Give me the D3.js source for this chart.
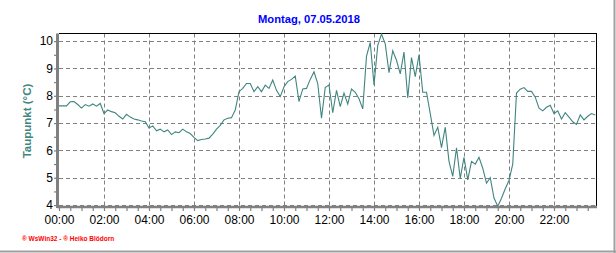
<!DOCTYPE html>
<html><head><meta charset="utf-8">
<script src="https://cdn.jsdelivr.net/npm/d3@7/dist/d3.min.js"></script>
<style>html,body{margin:0;padding:0;background:#fff;}svg{display:block;}</style>
</head><body>
<script>
// Dew point (Taupunkt), 10-minute samples starting 00:00
const startMinute = 0;
const stepMinutes = 10;
const dewPoint = [
 7.63,7.63,7.63,7.78,7.79,7.68, 7.55,7.68,7.62,7.70,7.62,7.72,
 7.35,7.48,7.42,7.38,7.25,7.15, 7.32,7.22,7.15,7.12,7.08,7.05,
 6.82,6.90,6.72,6.78,6.68,6.75, 6.58,6.68,6.65,6.78,6.68,6.62,
 6.48,6.36,6.40,6.42,6.45,6.60, 6.78,6.92,7.12,7.18,7.20,7.48,
 8.15,8.27,8.45,8.45,8.15,8.33, 8.15,8.39,8.27,8.58,8.20,7.97,
 8.33,8.52,8.60,8.72,7.79,8.25, 8.27,8.60,8.88,8.45,7.18,8.30,
 8.40,7.38,8.20,7.60,8.10,7.70, 8.25,8.13,7.89,7.52,9.45,9.95,
 8.40,9.85,10.26,9.90,8.85,9.65, 9.30,8.80,9.60,7.92,9.40,8.70,
 9.50,8.13,8.13,7.35,6.55,6.85, 6.10,6.85,5.60,5.05,6.10,4.98,
 5.75,4.92,5.60,5.50,5.75,5.35, 4.80,5.00,4.26,3.96,4.25,4.60,
 4.90,5.50,8.10,8.24,8.30,8.16, 8.16,7.95,7.55,7.45,7.58,7.65,
 7.35,7.45,7.15,7.38,7.22,7.05, 6.95,7.30,7.12,7.25,7.35,7.30
];
const yTicks = [4,5,6,7,8,9,10];
const xTickHours = [0,2,4,6,8,10,12,14,16,18,20,22];
const titleText = "Montag, 07.05.2018";
const yLabel = "Taupunkt  (°C)";
const footerText = "® WsWin32  -  ® Heiko Blödorn";

const W = 616, H = 253;
const L = 59, R = 597, T = 33.5, B = 207;
const svg = d3.select("body").append("svg").attr("width", W).attr("height", H);
const font = "'Liberation Sans', Arial, sans-serif";

const x = d3.scaleLinear().domain([0, 538/0.375]).range([L, R]);
const y = d3.scaleLinear().domain([3.93, 10.28]).range([B, T]);

// frame
svg.append("line").attr("x1", W-1.5).attr("x2", W-1.5).attr("y1", 0).attr("y2", H).attr("stroke", "#a0a0a0").attr("stroke-width", 2);
svg.append("line").attr("x1", 0).attr("x2", W).attr("y1", H-1.5).attr("y2", H-1.5).attr("stroke", "#a0a0a0").attr("stroke-width", 2);

// grid
const grid = svg.append("g").attr("stroke", "#808080").attr("stroke-dasharray", "4,3").attr("stroke-width", 1);
yTicks.forEach(v => {
  grid.append("line").attr("x1", L).attr("x2", R).attr("y1", Math.round(y(v)) + 0.5).attr("y2", Math.round(y(v)) + 0.5);
});
xTickHours.slice(1).forEach(h => {
  grid.append("line").attr("y1", T).attr("y2", B).attr("x1", Math.round(x(h*60)) + 0.5).attr("x2", Math.round(x(h*60)) + 0.5);
});

// top and right border
svg.append("line").attr("x1", L).attr("x2", R).attr("y1", T).attr("y2", T).attr("stroke", "#000");
svg.append("line").attr("x1", R - 0.5).attr("x2", R - 0.5).attr("y1", T).attr("y2", B + 1).attr("stroke", "#000");

// data line
const line = d3.line()
  .x((d, i) => x(startMinute + i * stepMinutes))
  .y(d => y(d));
svg.append("path").datum(dewPoint).attr("d", line)
  .attr("fill", "none").attr("stroke", "#3f8580").attr("stroke-width", 1.1);

// bottom axis
const minorTicks = d3.range(0, 24*60, 30).filter(m => x(m) <= R);
const xAxis = d3.axisBottom(x)
  .tickValues(minorTicks)
  .tickSize(4)
  .tickFormat(m => (m % 120 === 0) ? String(m/60).padStart(2, "0") + ":00" : "");
const gx = svg.append("g").attr("transform", `translate(0,${B})`).call(xAxis);
gx.select(".domain").remove();
gx.selectAll(".tick line").attr("stroke", "#808080").attr("stroke-width", 1.2);
gx.selectAll(".tick text").attr("font-family", font).attr("font-size", 12).attr("fill", "#000").attr("dy", "0.85em");
svg.append("line").attr("x1", L - 2).attr("x2", R).attr("y1", B).attr("y2", B).attr("stroke", "#808080").attr("stroke-width", 2.5);

// left axis
const yMinor = d3.range(4, 10.01, 0.5);
const yAxis = d3.axisLeft(y).tickValues(yMinor).tickSize(3)
  .tickFormat(v => Number.isInteger(v) ? String(v) : "");
const gy = svg.append("g").attr("transform", `translate(${L - 2},0)`).call(yAxis);
gy.select(".domain").remove();
gy.selectAll(".tick line").attr("stroke", "#808080").attr("stroke-width", 1.2);
gy.selectAll(".tick text").attr("font-family", font).attr("font-size", 12).attr("fill", "#000").attr("x", -4);
svg.append("line").attr("x1", L - 1.5).attr("x2", L - 1.5).attr("y1", T).attr("y2", B + 1).attr("stroke", "#808080").attr("stroke-width", 3);

// title
svg.append("text").attr("x", 309).attr("y", 23).attr("text-anchor", "middle")
  .attr("font-family", font).attr("font-weight", "bold").attr("font-size", 11.2)
  .attr("fill", "#0000ff").text(titleText);

// y label
svg.append("text").attr("transform", "translate(31,121) rotate(-90)").attr("text-anchor", "middle")
  .attr("font-family", font).attr("font-weight", "bold").attr("font-size", 11.5)
  .attr("fill", "#3f8580").text(yLabel);

// footer
svg.append("text").attr("x", 22).attr("y", 241)
  .attr("font-family", font).attr("font-weight", "bold").attr("font-size", 6.5)
  .attr("fill", "#ff0000").text(footerText);
</script>
</body></html>
